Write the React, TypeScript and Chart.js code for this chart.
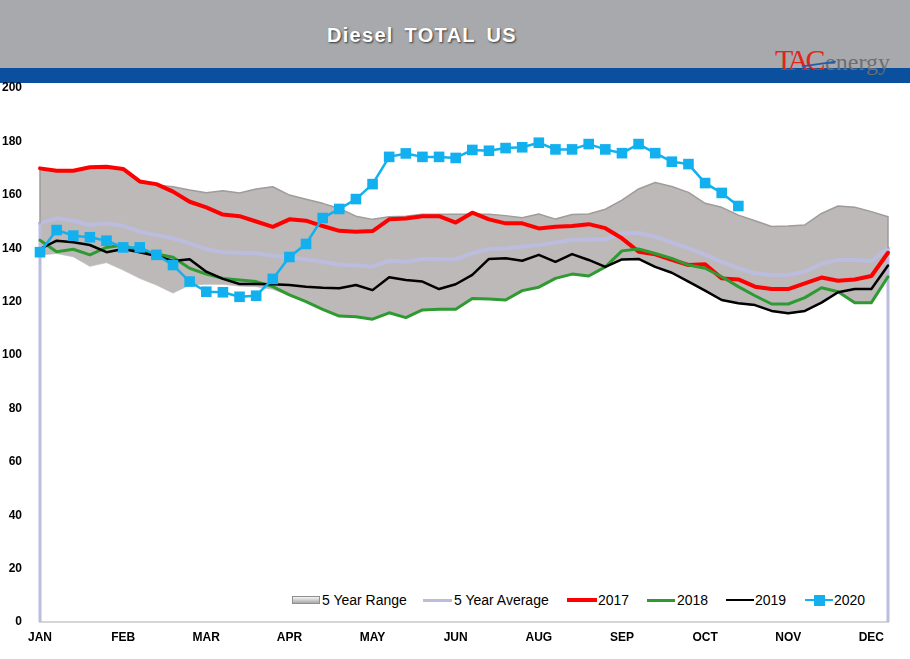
import React, { useEffect, useRef } from "react";
import { Chart, registerables } from "chart.js";

Chart.register(...registerables);

// ---------- data ----------
const WEEKS: string[] = [
  "W1","W2","W3","W4","W5","W6","W7","W8","W9","W10","W11","W12","W13","W14","W15","W16","W17","W18","W19","W20",
  "W21","W22","W23","W24","W25","W26","W27","W28","W29","W30","W31","W32","W33","W34","W35","W36","W37","W38","W39","W40",
  "W41","W42","W43","W44","W45","W46","W47","W48","W49","W50","W51","W52",
];
const MONTH_TICKS = ["JAN", "FEB", "MAR", "APR", "MAY", "JUN", "AUG", "SEP", "OCT", "NOV", "DEC"];
const MONTH_EVERY = 5;
const Y_MIN = 0;
const Y_MAX = 200;
const Y_STEP = 20;

const RANGE_UPPER = [
  169.5, 168.7, 168.7, 170, 170.2, 169.4, 164.5, 163.7, 163, 161.8, 160.8, 161.5, 160.7, 162.2, 163, 159.9, 158.3,
  156.8, 154.9, 152, 150.8, 151.8, 152, 152.7, 152.7, 152.7, 152.7, 152.7, 152.2, 151.4, 152.8, 150.9, 152.6, 152.8,
  154.6, 158, 162.2, 164.6, 163.1, 160.9, 156.8, 155.3, 152.4, 150.3, 148.1, 148.3, 148.7, 153, 155.8, 155.3, 153.7,
  151.8,
];
const RANGE_LOWER = [
  137.5, 138, 136.8, 133.2, 134.6, 131.8, 128.7, 126.2, 123.2, 126.2, 126.5, 126.5, 125.8, 125.6, 124.6, 122.3, 119.8,
  117, 114.5, 114.2, 113.3, 115.6, 113.9, 116.8, 117, 117, 121, 120.8, 120.4, 123.9, 125.2, 128.5, 130.1, 129.4, 132.8,
  135.6, 135.8, 132.8, 130.6, 127.3, 123.9, 120.4, 119.2, 118.5, 116.3, 115.4, 116.3, 119.4, 123.3, 119.4, 119.4, 129,
];
const AVG_5Y = [
  149.3, 151.2, 150.3, 148.7, 149.3, 148.4, 146.2, 144.9, 143.7, 141.8, 139.7, 138.5, 138.3, 138.1, 137.2, 136.5, 135.8,
  134.9, 133.9, 133.5, 133.1, 135.3, 134.9, 136, 135.9, 135.9, 138.1, 139.7, 139.9, 140.6, 141.2, 142.1, 143.1, 143.3,
  143.3, 145.6, 145.8, 144.3, 142.1, 140, 137.5, 134.9, 132.5, 130.6, 130, 130, 131.2, 134.3, 135.6, 135.6, 135.2, 140,
];
const Y2017 = [
  169.9, 169, 169, 170.3, 170.5, 169.7, 165, 164, 161.2, 157.4, 155.3, 152.6, 152, 150, 148, 150.8, 150.3, 148.3, 146.5,
  146.2, 146.4, 150.8, 151.1, 152, 152, 149.6, 153.3, 150.8, 149.3, 149.3, 147.4, 148, 148.3, 149, 147.5, 143.7, 138.7,
  137.7, 135.6, 133.7, 134, 128.7, 128.3, 125.6, 124.7, 124.7, 126.8, 129, 127.8, 128.3, 129.6, 138.3,
];
const Y2018 = [
  143, 138.7, 139.6, 137.5, 140.3, 141.2, 138.7, 137.8, 136.6, 132.5, 130.3, 128.7, 128.1, 127.5, 125.6, 122.5, 120,
  117.1, 114.6, 114.3, 113.4, 115.8, 114, 116.9, 117.1, 117.1, 121.2, 121, 120.6, 124.1, 125.4, 128.7, 130.3, 129.6, 133,
  139, 139.7, 138, 136.2, 133.7, 132.5, 129.3, 125.6, 122.2, 119.1, 119.1, 121.5, 125.2, 123.7, 119.6, 119.6, 129.3,
];
const Y2019 = [
  139.7, 142.8, 142.2, 141.2, 138.5, 139.7, 138.5, 137.1, 135.2, 135.9, 131.2, 128.5, 126.6, 126.6, 126.5, 126.2, 125.6,
  125.2, 125, 126.2, 124.3, 129.1, 128.1, 127.5, 124.7, 126.5, 130, 136, 136.2, 135.3, 137.5, 134.9, 137.8, 135.6, 133,
  135.8, 136, 133, 130.8, 127.5, 124.1, 120.6, 119.4, 118.7, 116.5, 115.6, 116.5, 119.6, 123.5, 124.7, 124.7, 133.5,
];
const Y2020 = [
  138.5, 146.8, 144.7, 144.1, 142.8, 140.3, 140.3, 137.5, 133.7, 127.5, 123.7, 123.5, 121.8, 122.2, 128.5, 136.7, 141.6,
  151.3, 154.7, 158.4, 164, 174.2, 175.5, 174.2, 174.2, 173.8, 176.8, 176.5, 177.5, 177.8, 179.5, 177, 177, 179, 177,
  175.6, 179, 175.6, 172.4, 171.5, 164.4, 160.7, 155.8,
];

// ---------- styles ----------
const FONT = "'Liberation Sans', Arial, sans-serif";
const C_RANGE = "#bdb9b8";
const C_RANGE_EDGE = "#a19b9b";
const C_AVG = "#bcbcde";
const C_2017 = "#ff0000";
const C_2018 = "#2f9a32";
const C_2019 = "#000000";
const C_2020 = "#12b0ee";

const edgePlugin = {
  id: "edges",
  afterDatasetDraw(chart: any, args: any) {
    if (args.index !== 2) return;
    const { ctx, scales } = chart;
    const x = scales.x;
    const y = scales.y;
    const last = AVG_5Y.length - 1;
    ctx.save();
    ctx.lineCap = "butt";
    ctx.strokeStyle = C_RANGE_EDGE;
    ctx.lineWidth = 1.5;
    [0, last].forEach((i) => {
      const px = x.getPixelForValue(i);
      ctx.beginPath();
      ctx.moveTo(px, y.getPixelForValue(RANGE_UPPER[i]));
      ctx.lineTo(px, y.getPixelForValue(RANGE_LOWER[i]));
      ctx.stroke();
    });
    ctx.strokeStyle = C_AVG;
    ctx.lineWidth = 3;
    [0, last].forEach((i) => {
      const px = x.getPixelForValue(i);
      ctx.beginPath();
      ctx.moveTo(px, y.getPixelForValue(AVG_5Y[i]));
      ctx.lineTo(px, y.getPixelForValue(Y_MIN));
      ctx.stroke();
    });
    ctx.restore();
  },
};

const LEGEND = [
  { label: "5 Year Range", kind: "range", color: C_RANGE, left: 292, textLeft: 322, w: 28, h: 8 },
  { label: "5 Year Average", kind: "line", color: C_AVG, left: 423, textLeft: 454, w: 29, h: 3 },
  { label: "2017", kind: "line", color: C_2017, left: 567, textLeft: 598, w: 30, h: 3.5 },
  { label: "2018", kind: "line", color: C_2018, left: 647, textLeft: 677, w: 28, h: 3 },
  { label: "2019", kind: "line", color: C_2019, left: 726, textLeft: 755, w: 28, h: 2.5 },
  { label: "2020", kind: "marker", color: C_2020, left: 805, textLeft: 834, w: 28, h: 2.5 },
];

export default function App() {
  const ref = useRef<HTMLCanvasElement | null>(null);

  useEffect(() => {
    if (!ref.current) return;
    const base = {
      pointRadius: 0,
      tension: 0,
      fill: false,
      clip: false as any,
      borderJoinStyle: "round" as const,
      borderCapStyle: "round" as const,
    };
    const chart = new Chart(ref.current, {
      type: "line",
      data: {
        labels: WEEKS,
        datasets: [
          { ...base, label: "range-low", data: RANGE_LOWER, borderColor: "rgba(150,145,145,0.45)", borderWidth: 1, order: 6 },
          {
            ...base,
            label: "5 Year Range",
            data: RANGE_UPPER,
            borderColor: C_RANGE_EDGE,
            borderWidth: 1.5,
            backgroundColor: C_RANGE,
            fill: "-1",
            order: 5,
          },
          { ...base, label: "5 Year Average", data: AVG_5Y, borderColor: C_AVG, borderWidth: 4, order: 4 },
          { ...base, label: "2017", data: Y2017, borderColor: C_2017, borderWidth: 4, order: 3 },
          { ...base, label: "2018", data: Y2018, borderColor: C_2018, borderWidth: 3, order: 2 },
          { ...base, label: "2019", data: Y2019, borderColor: C_2019, borderWidth: 2.5, order: 1 },
          {
            ...base,
            label: "2020",
            data: Y2020,
            borderColor: C_2020,
            borderWidth: 2.5,
            pointStyle: "rect",
            pointRadius: 7.5,
            pointBackgroundColor: C_2020,
            pointBorderColor: C_2020,
            pointBorderWidth: 0,
            order: 0,
          },
        ],
      },
      options: {
        responsive: false,
        animation: false,
        events: [],
        layout: { padding: { top: 88, right: 22, bottom: 0, left: 0 } },
        plugins: { legend: { display: false }, tooltip: { enabled: false }, title: { display: false } },
        scales: {
          x: {
            type: "category",
            offset: false,
            grid: { display: false, drawTicks: false },
            border: { display: true, color: "#d6d6d6", width: 2 },
            afterFit: (s: any) => {
              s.height = 37;
            },
            ticks: {
              autoSkip: false,
              maxRotation: 0,
              minRotation: 0,
              padding: 8,
              color: "#000",
              font: { family: FONT, size: 12, weight: "bold" },
              callback: (_v: any, i: number) => (i % MONTH_EVERY === 0 ? MONTH_TICKS[i / MONTH_EVERY] ?? "" : ""),
            },
          },
          y: {
            min: Y_MIN,
            max: Y_MAX,
            grid: { display: false, drawTicks: false },
            border: { display: false },
            afterFit: (s: any) => {
              s.width = 40;
            },
            ticks: {
              stepSize: Y_STEP,
              padding: 18,
              color: "#000",
              font: { family: FONT, size: 12, weight: "bold" },
            },
          },
        },
      },
      plugins: [edgePlugin],
    });
    return () => chart.destroy();
  }, []);

  return (
    <div
      style={{
        position: "absolute",
        left: 0,
        top: 0,
        width: 910,
        height: 659,
        background: "#fff",
        overflow: "hidden",
        fontFamily: FONT,
      }}
    >
      <div style={{ position: "absolute", left: 0, top: 0, width: 910, height: 68, background: "#a7a9ac" }} />
      <div style={{ position: "absolute", left: 0, top: 68, width: 910, height: 15, background: "#0b509f" }} />
      <div
        style={{
          position: "absolute",
          left: 327,
          top: 25,
          fontSize: 20,
          lineHeight: "20px",
          fontWeight: "bold",
          color: "#fff",
          letterSpacing: 1.3,
          wordSpacing: 4,
          whiteSpace: "nowrap",
          textShadow: "1px 1px 2px #333",
        }}
      >
        Diesel TOTAL US
      </div>
      <div
        style={{
          position: "absolute",
          left: 775,
          top: 46,
          whiteSpace: "nowrap",
          fontFamily: "'Liberation Serif', 'DejaVu Serif', serif",
          lineHeight: "28px",
        }}
      >
        <span style={{ color: "#e2231a", fontSize: 30, letterSpacing: -3.5 }}>TAC</span>
        <span style={{ color: "#6d6e71", fontSize: 24, marginLeft: 3 }}>energy</span>
      </div>
      <div
        style={{
          position: "absolute",
          left: 802,
          top: 63,
          width: 34,
          height: 2,
          background: "#1f5fae",
          transform: "rotate(-8deg)",
        }}
      />
      {LEGEND.map((it) => (
        <React.Fragment key={it.label}>
          {it.kind === "range" ? (
            <div
              style={{
                position: "absolute",
                left: it.left,
                top: 600 - it.h / 2,
                width: it.w,
                height: it.h,
                boxSizing: "border-box",
                border: "1px solid #8f8f8f",
                background: "linear-gradient(#f4f4f4, #a9a9a9)",
              }}
            />
          ) : (
            <div
              style={{
                position: "absolute",
                left: it.left,
                top: 600 - it.h / 2,
                width: it.w,
                height: it.h,
                background: it.color,
              }}
            />
          )}
          {it.kind === "marker" && (
            <div
              style={{
                position: "absolute",
                left: it.left + it.w / 2 - 5.5,
                top: 594.5,
                width: 11,
                height: 11,
                background: it.color,
              }}
            />
          )}
          <div
            style={{
              position: "absolute",
              left: it.textLeft,
              top: 593,
              fontSize: 14,
              lineHeight: "14px",
              color: "#000",
              whiteSpace: "nowrap",
            }}
          >
            {it.label}
          </div>
        </React.Fragment>
      ))}
      <canvas ref={ref} width={910} height={659} style={{ position: "absolute", left: 0, top: 0, width: 910, height: 659 }} />
    </div>
  );
}
